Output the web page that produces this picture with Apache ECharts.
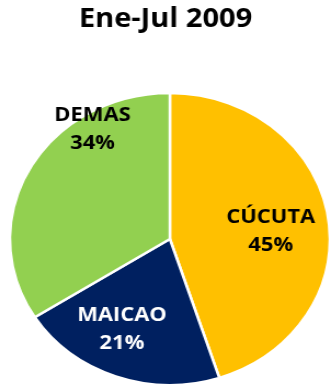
<!DOCTYPE html>
<html>
<head>
<meta charset="utf-8">
<script src="https://cdn.jsdelivr.net/npm/echarts@6/dist/echarts.min.js"></script>
<style>
html,body{margin:0;padding:0;background:#fff;overflow:hidden;}
#wrap{width:331px;height:392px;overflow:hidden;}
#chart{width:302px;height:392px;transform:scaleX(1.096);transform-origin:0 0;}
</style>
</head>
<body>
<div id="wrap"><div id="chart"></div></div>
<script>
const title = 'Ene-Jul 2009';
const categories = ['CÚCUTA', 'MAICAO', 'DEMAS'];
const values = [45, 21, 34];
const colors = ['#FFC000', '#002060', '#92D050'];
const labelColors = ['#000000', '#FFFFFF', '#000000'];
const labelShift = [[17, 4], [-18, 19], [-4, -73]];

const chart = echarts.init(document.getElementById('chart'), null, {renderer: 'canvas'});
chart.setOption({
  animation: false,
  title: {
    text: title,
    left: 'center',
    top: 6,
    padding: [0, 0, 0, 8],
    textStyle: {fontFamily: 'Open Sans', fontWeight: 'bold', fontSize: 26.5, color: '#000'}
  },
  series: [{
    type: 'pie',
    center: [155, 239],
    radius: 146,
    startAngle: 90,
    clockwise: true,
    data: categories.map((c, i) => ({
      name: c,
      value: values[i],
      itemStyle: {color: colors[i]},
      label: {color: labelColors[i]}
    })),
    itemStyle: {borderColor: '#fff', borderWidth: 2.5},
    label: {
      show: true,
      position: 'inside',
      formatter: p => p.name + '\n' + p.value + '%',
      fontFamily: 'Open Sans',
      fontWeight: 'bold',
      fontSize: 20,
      lineHeight: 28,
      align: 'center'
    },
    labelLayout: p => ({dx: labelShift[p.dataIndex][0], dy: labelShift[p.dataIndex][1]}),
    emphasis: {disabled: true}
  }]
});
</script>
</body>
</html>
